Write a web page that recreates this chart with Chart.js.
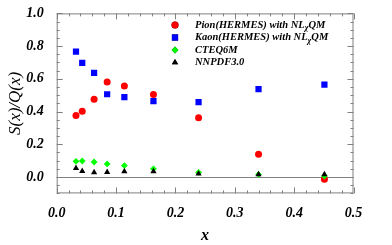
<!DOCTYPE html>
<html>
<head>
<meta charset="utf-8">
<script src="https://cdn.jsdelivr.net/npm/chart.js@4.4.0/dist/chart.umd.min.js"></script>
<style>
  html, body { margin: 0; padding: 0; background: #fff; }
  #wrap { width: 392px; height: 245px; position: relative; }
</style>
</head>
<body>
<div id="wrap"><canvas id="chart"></canvas></div>
<script>
// x positions shared by all four sets
const xValues = [0.0325, 0.043, 0.063, 0.085, 0.114, 0.163, 0.239, 0.340, 0.451];
const pionValues = [0.376, 0.402, 0.476, 0.581, 0.557, 0.504, 0.362, 0.140, -0.014];
const kaonValues = [0.767, 0.697, 0.637, 0.506, 0.488, 0.464, 0.458, 0.537, 0.565];
const cteqValues = [0.096, 0.098, 0.092, 0.080, 0.070, 0.050, 0.028, 0.016, 0.006];
const nnpdfValues = [0.054, 0.036, 0.028, 0.030, 0.034, 0.034, 0.020, 0.016, 0.016];
const xTicks = [0, 0.1, 0.2, 0.3, 0.4, 0.5];
const yTicks = [0, 0.2, 0.4, 0.6, 0.8, 1.0];

function pts(ys) {
    return xValues.map((x, i) => ({ x: x, y: ys[i] }));
}

// frame, inside ticks, zero line and legend (Mathematica style)
const framePlugin = {
    id: 'frame',
    beforeDatasetsDraw(chart) {
        const ctx = chart.ctx;
        const a = chart.chartArea;
        const xs = chart.scales.x, ys = chart.scales.y;
        ctx.save();
        ctx.strokeStyle = '#808080';
        ctx.lineWidth = 1;
        ctx.strokeRect(a.left + 0.5, a.top + 0.5, a.right - a.left - 1, a.bottom - a.top - 1);
        // zero line
        const y0 = Math.round(ys.getPixelForValue(0)) + 0.5;
        ctx.beginPath();
        ctx.moveTo(a.left, y0);
        ctx.lineTo(a.right, y0);
        ctx.stroke();
        // ticks
        ctx.beginPath();
        for (let i = 0; i <= 25; i++) {
            const px = Math.round(xs.getPixelForValue(i * 0.02)) + 0.5;
            const len = i % 5 === 0 ? 6 : 3;
            ctx.moveTo(px, a.bottom); ctx.lineTo(px, a.bottom - len);
            ctx.moveTo(px, a.top); ctx.lineTo(px, a.top + len);
        }
        for (let i = -2; i <= 20; i++) {
            const py = Math.round(ys.getPixelForValue(i * 0.05)) + 0.5;
            const len = i % 4 === 0 ? 6 : 3;
            ctx.moveTo(a.left, py); ctx.lineTo(a.left + len, py);
            ctx.moveTo(a.right, py); ctx.lineTo(a.right - len, py);
        }
        ctx.stroke();
        ctx.restore();
    },
    afterDraw(chart) {
        const ctx = chart.ctx;
        ctx.save();
        const rows = [
            { idx: 0, main: 'Pion(HERMES) with NL', sub: 'χ', tail: 'QM' },
            { idx: 1, main: 'Kaon(HERMES) with NL', sub: 'χ', tail: 'QM' },
            { idx: 2, main: 'CTEQ6M' },
            { idx: 3, main: 'NNPDF3.0' }
        ];
        const mx = 175, tx = 195;
        rows.forEach((r, k) => {
            const y = 25 + k * 12.5;
            const ds = chart.data.datasets[r.idx];
            Chart.helpers.drawPoint(ctx, {
                pointStyle: ds.pointStyle,
                radius: ds.pointRadius,
                rotation: 0,
                borderWidth: 0
            }, mx, y);
            ctx.fillStyle = ds.backgroundColor;
            ctx.fill();
            ctx.fillStyle = '#000';
            ctx.textBaseline = 'middle';
            ctx.font = 'bold italic 10.5px "Liberation Serif"';
            ctx.fillText(r.main, tx, y);
            if (r.sub) {
                let w = ctx.measureText(r.main).width;
                ctx.font = 'bold italic 8px "Liberation Serif"';
                ctx.fillText(r.sub, tx + w, y + 3);
                w += ctx.measureText(r.sub).width;
                ctx.font = 'bold italic 10.5px "Liberation Serif"';
                ctx.fillText(r.tail, tx + w, y);
            }
        });
        ctx.restore();
    }
};

const ctx = document.getElementById('chart').getContext('2d');
new Chart(ctx, {
    type: 'scatter',
    data: {
        datasets: [
            { label: 'Pion', data: pts(pionValues), pointStyle: 'circle', pointRadius: 3.5,
              backgroundColor: '#ff0000', borderWidth: 0, order: 3 },
            { label: 'Kaon', data: pts(kaonValues), pointStyle: 'rect', pointRadius: 4.4,
              backgroundColor: '#0000ff', borderWidth: 0, order: 2 },
            { label: 'CTEQ6M', data: pts(cteqValues), pointStyle: 'rectRot', pointRadius: 3.4,
              backgroundColor: '#00ff00', borderWidth: 0, order: 1 },
            { label: 'NNPDF3.0', data: pts(nnpdfValues), pointStyle: 'triangle', pointRadius: 3.6,
              backgroundColor: '#000000', borderWidth: 0, order: 0 }
        ]
    },
    options: {
        responsive: true,
        maintainAspectRatio: false,
        animation: false,
        events: [],
        layout: { padding: { top: 9, right: 38.5, left: 0, bottom: 0 } },
        plugins: { legend: { display: false }, tooltip: { enabled: false } },
        scales: {
            x: {
                type: 'linear', min: 0, max: 0.5,
                grid: { display: false },
                border: { display: false },
                afterBuildTicks(s) { s.ticks = xTicks.map(v => ({ value: v })); },
                afterFit(s) { s.height = 51.6; },
                ticks: {
                    color: '#000', padding: 4,
                    font: { family: 'Liberation Serif', size: 14, style: 'italic', weight: 'bold' },
                    callback: v => v.toFixed(1)
                },
                title: {
                    display: true, text: 'x', color: '#000', padding: { top: 1, bottom: 0 },
                    font: { family: 'Liberation Serif', size: 16, style: 'italic', weight: 'bold' }
                }
            },
            y: {
                type: 'linear', min: -0.1, max: 1.0,
                grid: { display: false },
                border: { display: false },
                afterBuildTicks(s) { s.ticks = yTicks.map(v => ({ value: v })); },
                afterFit(s) { s.width = 56.7; },
                ticks: {
                    color: '#000', padding: 5,
                    font: { family: 'Liberation Serif', size: 14, style: 'italic', weight: 'bold' },
                    callback: v => v.toFixed(1)
                },
                title: {
                    display: true, text: 'S(x)/Q(x)', color: '#000', padding: { top: 5, bottom: 0 },
                    font: { family: 'Liberation Serif', size: 17, style: 'italic' }
                }
            }
        }
    },
    plugins: [framePlugin]
});
</script>
</body>
</html>
